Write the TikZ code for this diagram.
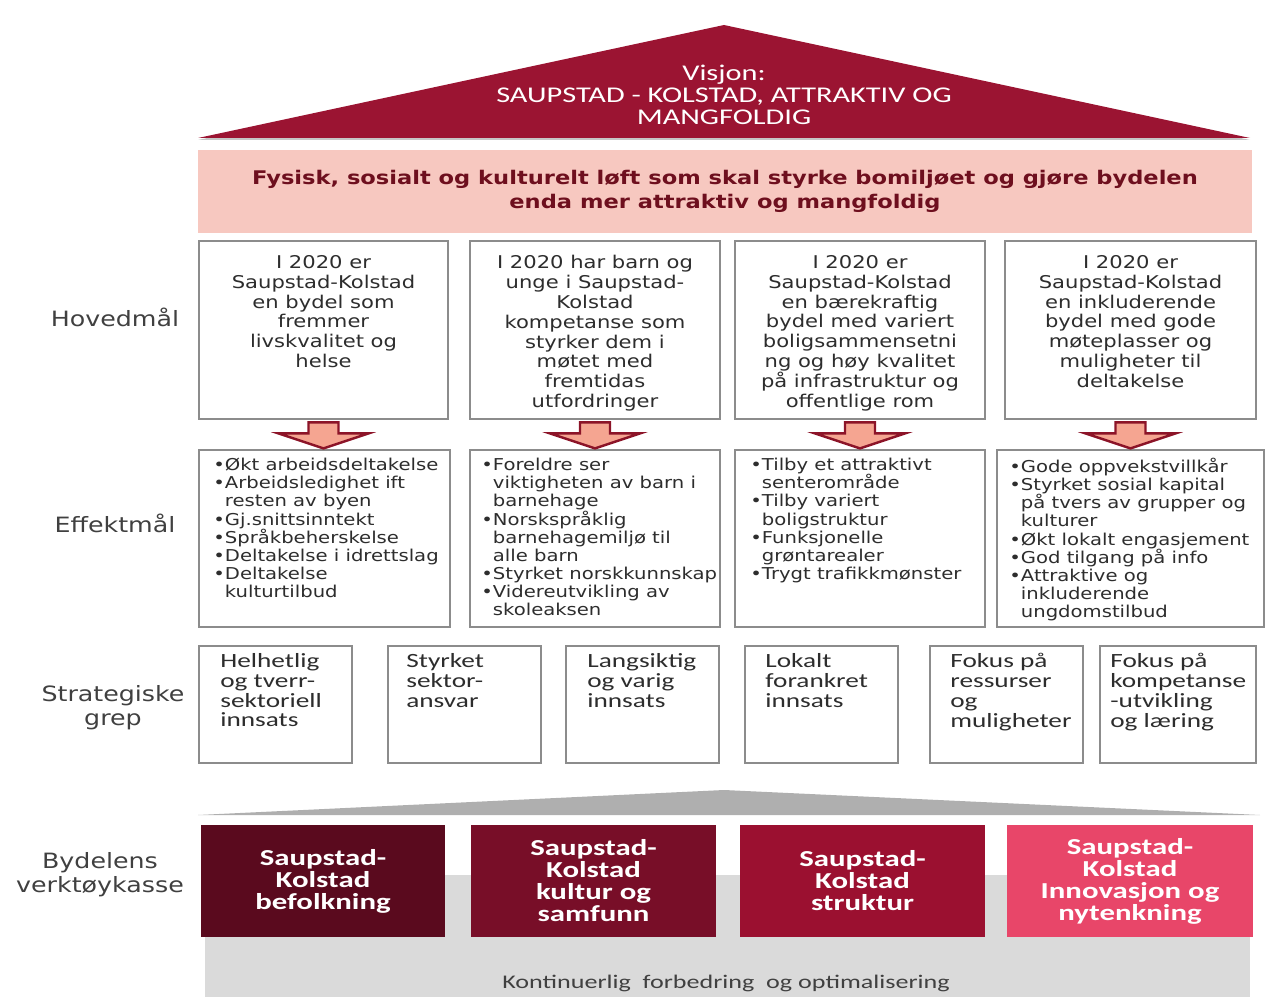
\documentclass[tikz,border=0pt]{standalone}
\usepackage{fontspec}
\usetikzlibrary{positioning}
\newfontfamily\dvfont[FakeStretch=1.2]{DejaVu Sans}
\newfontfamily\cbfont[FakeStretch=1.35]{Carlito}
\newcommand{\bulind}{\hphantom{•}}
\definecolor{roofred}{RGB}{155,20,50}
\definecolor{bandpink}{RGB}{247,200,192}
\definecolor{bandtext}{RGB}{110,15,30}
\definecolor{boxgray}{RGB}{140,140,140}
\definecolor{textgray}{RGB}{45,45,45}
\definecolor{labelgray}{RGB}{64,64,64}
\definecolor{arrowred}{RGB}{140,20,40}
\definecolor{arrowfill}{RGB}{245,165,145}
\definecolor{kitA}{RGB}{90,10,30}
\definecolor{kitB}{RGB}{120,14,40}
\definecolor{kitC}{RGB}{155,16,48}
\definecolor{kitD}{RGB}{232,70,105}
\definecolor{roofgray}{RGB}{175,175,175}
\definecolor{panelgray}{RGB}{218,218,218}
\tikzset{
  lbl/.style={align=center,text=labelgray,inner sep=0pt,
              font=\dvfont\fontsize{12}{13.5}\selectfont},
  goalbox/.style={draw=boxgray,line width=1.6pt,fill=white,inner sep=0pt},
  hmtxt/.style={anchor=north,align=center,inner sep=0pt,text=textgray,
                font=\dvfont\fontsize{10}{11.3}\selectfont},
  emtxt/.style={anchor=north west,align=left,inner sep=0pt,text=textgray,
                font=\dvfont\fontsize{9.3}{10.3}\selectfont},
  sgtxt/.style={anchor=north west,align=left,inner sep=0pt,text=textgray,
                font=\cbfont\fontsize{11.5}{11.3}\selectfont},
  fatarrow/.style={draw=arrowred,fill=arrowfill,line width=1.4pt,line join=miter},
  kit/.style={text=white,align=center,inner sep=0pt,minimum height=2.24cm,
              font=\cbfont\bfseries\fontsize{13}{12.5}\selectfont}}

\begin{document}
\begin{tikzpicture}[x=0.02cm,y=-0.02cm]
  \useasboundingbox (0,0) rectangle (1269,997);
  % tak
  \fill[gray!45] (198,140) -- (724,28) -- (1250,140) -- cycle;
  \fill[roofred] (198,138) -- (724,25) -- (1250,138) -- cycle;
  \node[align=center,text=white,font=\cbfont\fontsize{12.8}{12.5}\selectfont] (visjon) at (724,95)
    {Visjon:\\SAUPSTAD - KOLSTAD, ATTRAKTIV OG\\MANGFOLDIG};
  \node[fill=bandpink,minimum width=21.08cm,minimum height=1.66cm,align=center,text=bandtext,
        font=\dvfont\bfseries\fontsize{10.7}{13.6}\selectfont] (band) at (725,191.5)
    {Fysisk, sosialt og kulturelt løft som skal styrke bomiljøet og gjøre bydelen\\enda mer attraktiv og mangfoldig};

  % hovedmaal
  \node[lbl] (lhm) at (115,317) {Hovedmål};
  \node[goalbox,minimum width=4.98cm,minimum height=3.56cm] (hm1) at (323.5,330) {};
  \node[goalbox,minimum width=5cm,minimum height=3.56cm] (hm2) at (595,330) {};
  \node[goalbox,minimum width=5cm,minimum height=3.56cm] (hm3) at (860,330) {};
  \node[goalbox,minimum width=5.02cm,minimum height=3.56cm] (hm4) at (1130.5,330) {};
  \node[hmtxt] (hm1t) at (323.5,255) {I 2020 er\\Saupstad-Kolstad\\en bydel som\\fremmer\\livskvalitet og\\helse};
  \node[hmtxt] (hm2t) at (595,255) {I 2020 har barn og\\unge i Saupstad-\\Kolstad\\kompetanse som\\styrker dem i\\møtet med\\fremtidas\\utfordringer};
  \node[hmtxt] (hm3t) at (860,255) {I 2020 er\\Saupstad-Kolstad\\en bærekraftig\\bydel med variert\\boligsammensetni\\ng og høy kvalitet\\på infrastruktur og\\offentlige rom};
  \node[hmtxt] (hm4t) at (1130.5,255) {I 2020 er\\Saupstad-Kolstad\\en inkluderende\\bydel med gode\\møteplasser og\\muligheter til\\deltakelse};

  % effektmaal
  \node[lbl] (lem) at (115,523) {Effektmål};
  \node[goalbox,minimum width=5.02cm,minimum height=3.54cm] (em1) at (324.5,538.5) {};
  \node[goalbox,minimum width=5cm,minimum height=3.54cm] (em2) at (595,538.5) {};
  \node[goalbox,minimum width=5cm,minimum height=3.54cm] (em3) at (860,538.5) {};
  \node[goalbox,minimum width=5.34cm,minimum height=3.54cm] (em4) at (1130.5,538.5) {};
  \node[emtxt] (em1t) at (213,458) {•Økt arbeidsdeltakelse\\•Arbeidsledighet ift\\\bulind resten av byen\\•Gj.snittsinntekt\\•Språkbeherskelse\\•Deltakelse i idrettslag\\•Deltakelse\\\bulind kulturtilbud};
  \node[emtxt] (em2t) at (481,458) {•Foreldre ser\\\bulind viktigheten av barn i\\\bulind barnehage\\•Norskspråklig\\\bulind barnehagemiljø til\\\bulind alle barn\\•Styrket norskkunnskap\\•Videreutvikling av\\\bulind skoleaksen};
  \node[emtxt] (em3t) at (750,458) {•Tilby et attraktivt\\\bulind senterområde\\•Tilby variert\\\bulind boligstruktur\\•Funksjonelle\\\bulind grøntarealer\\•Trygt trafikkmønster};
  \node[emtxt] (em4t) at (1009,458) {•Gode oppvekstvillkår\\•Styrket sosial kapital\\\bulind på tvers av grupper og\\\bulind kulturer\\•Økt lokalt engasjement\\•God tilgang på info\\•Attraktive og\\\bulind inkluderende\\\bulind ungdomstilbud};
  \foreach \i in {1,...,4}
    \draw[fatarrow] (hm\i.south) ++(-15,2) -- ++(30,0) -- ++(0,11) -- ++(30,0)
      -- ++(-45,15) -- ++(-45,-15) -- ++(30,0) -- cycle;

  % strategiske grep
  \node[lbl] (lsg) at (113,708) {Strategiske\\grep};
  \node[goalbox,minimum width=3.06cm,minimum height=2.34cm] (sg1) at (275.5,704.5) {};
  \node[goalbox,minimum width=3.06cm,minimum height=2.34cm] (sg2) at (464.5,704.5) {};
  \node[goalbox,minimum width=3.06cm,minimum height=2.34cm] (sg3) at (642.5,704.5) {};
  \node[goalbox,minimum width=3.06cm,minimum height=2.34cm] (sg4) at (821.5,704.5) {};
  \node[goalbox,minimum width=3.06cm,minimum height=2.34cm] (sg5) at (1006.5,704.5) {};
  \node[goalbox,minimum width=3.12cm,minimum height=2.34cm] (sg6) at (1178,704.5) {};
  \node[sgtxt] (sg1t) at (220,653) {Helhetlig\\og tverr-\\sektoriell\\innsats};
  \node[sgtxt] (sg2t) at (406,653) {Styrket\\sektor-\\ansvar};
  \node[sgtxt] (sg3t) at (587,653) {Langsiktig\\og varig\\innsats};
  \node[sgtxt] (sg4t) at (765,653) {Lokalt\\forankret\\innsats};
  \node[sgtxt] (sg5t) at (950,653) {Fokus på\\ressurser\\og\\muligheter};
  \node[sgtxt] (sg6t) at (1110,653) {Fokus på\\kompetanse\\-utvikling\\og læring};

  % verktoykasse
  \fill[panelgray] (205,875) rectangle (1250,997);
  \fill[roofgray] (198,815) -- (724,790) -- (1260,815) -- cycle;
  \node[lbl] (lvk) at (100,875) {Bydelens\\verktøykasse};
  \node[kit,fill=kitA,minimum width=4.88cm] (vk1) at (323,881) {Saupstad-\\Kolstad\\befolkning};
  \node[kit,fill=kitB,minimum width=4.9cm] (vk2) at (593.5,881) {Saupstad-\\Kolstad\\kultur og\\samfunn};
  \node[kit,fill=kitC,minimum width=4.9cm] (vk3) at (862.5,881) {Saupstad-\\Kolstad\\struktur};
  \node[kit,fill=kitD,minimum width=4.92cm] (vk4) at (1130,881) {Saupstad-\\Kolstad\\Innovasjon og\\nytenkning};
  \node[text=labelgray,inner sep=0pt,font=\cbfont\fontsize{11}{12}\selectfont] (kont) at (726,983)
    {Kontinuerlig\ \ forbedring\ \ og optimalisering};
\end{tikzpicture}
\end{document}
